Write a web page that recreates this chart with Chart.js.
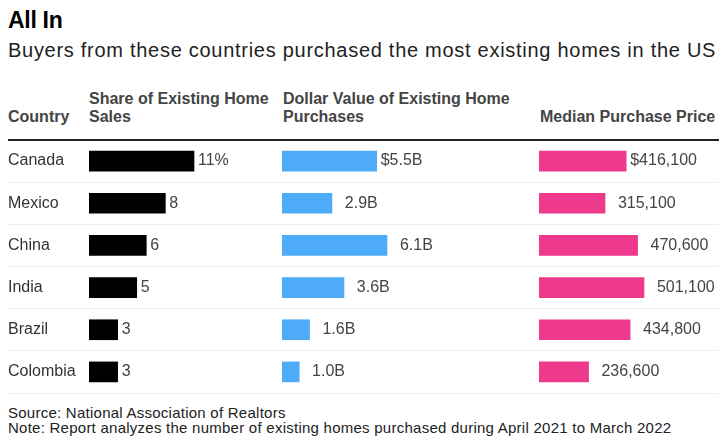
<!DOCTYPE html>
<html>
<head>
<meta charset="utf-8">
<script src="https://cdn.jsdelivr.net/npm/chart.js@4.4.0/dist/chart.umd.min.js"></script>
<style>
  body { margin: 0; background: #fff; font-family: "Liberation Sans", Arial, sans-serif; }
  #wrap { position: relative; width: 728px; height: 446px; overflow: hidden; }
  .t { position: absolute; white-space: nowrap; }
  #title { left: 8px; top: 7px; font-size: 23px; line-height: 26px; font-weight: bold; color: #000; letter-spacing: -0.3px; }
  #subtitle { left: 8px; top: 38px; font-size: 20px; line-height: 24px; color: #222; letter-spacing: 0.72px; }
  .head { top: 90px; font-size: 16px; line-height: 18px; font-weight: bold; color: #444; }
  .foot { left: 8px; font-size: 15px; line-height: 13px; color: #222; letter-spacing: 0.25px; }
  canvas { position: absolute; top: 136px; }
</style>
</head>
<body>
<div id="wrap">
  <div class="t" id="title">All In</div>
  <div class="t" id="subtitle">Buyers from these countries purchased the most existing homes in the US</div>

  <div class="t head" style="left:8px; top:108px;">Country</div>
  <div class="t head" style="left:89px;">Share of Existing Home<br>Sales</div>
  <div class="t head" style="left:283px;">Dollar Value of Existing Home<br>Purchases</div>
  <div class="t head" style="left:540px; top:108px;">Median Purchase Price</div>

  <canvas id="share" width="270" height="260" style="left:0px;"></canvas>
  <canvas id="dollar" width="250" height="260" style="left:270px;"></canvas>
  <canvas id="median" width="199" height="260" style="left:520px;"></canvas>

  <div class="t foot" style="top:406px;">Source: National Association of Realtors</div>
  <div class="t foot" style="top:421px;">Note: Report analyzes the number of existing homes purchased during April 2021 to March 2022</div>
</div>

<script>
// data
const countries = ['Canada', 'Mexico', 'China', 'India', 'Brazil', 'Colombia'];
const sharePct = [11, 8, 6, 5, 3, 3];
const dollarBillions = [5.5, 2.9, 6.1, 3.6, 1.6, 1.0];
const medianPrice = [416100, 315100, 470600, 501100, 434800, 236600];

Chart.defaults.font.family = '"Liberation Sans", Arial, sans-serif';

// the longest bar of every column is this many pixels long
const LONGEST_BAR = 105;

// draws the value next to each bar; first row carries the unit,
// the others leave room for a "$" so the numbers line up with it
const valueLabels = {
    id: 'valueLabels',
    afterDatasetsDraw(chart, args, opts) {
        const ctx = chart.ctx;
        const meta = chart.getDatasetMeta(0);
        ctx.save();
        ctx.font = '16px "Liberation Sans", Arial, sans-serif';
        ctx.fillStyle = '#444';
        ctx.textAlign = 'left';
        ctx.textBaseline = 'middle';
        const prefixWidth = ctx.measureText(opts.prefix).width;
        meta.data.forEach((bar, i) => {
            const raw = chart.data.datasets[0].data[i];
            const txt = opts.format(raw);
            let x = bar.x + 4;
            if (i === 0) {
                ctx.fillText(opts.prefix + txt + opts.suffix, x, bar.y);
            } else {
                ctx.fillText(txt, x + prefixWidth, bar.y);
            }
        });
        ctx.restore();
    }
};

function makeColumn(canvasId, values, color, gap, areaWidth, showNames, labelOpts) {
    const top = Math.max(...values);
    new Chart(document.getElementById(canvasId), {
        type: 'bar',
        data: {
            labels: countries,
            datasets: [{
                data: values,
                backgroundColor: color,
                borderWidth: 0,
                barThickness: 20
            }]
        },
        options: {
            indexAxis: 'y',
            responsive: false,
            animation: false,
            layout: { padding: { left: showNames ? 8 : 0, top: 4, bottom: 3, right: 0 } },
            plugins: {
                legend: { display: false },
                tooltip: { enabled: false },
                valueLabels: labelOpts
            },
            scales: {
                x: {
                    display: false,
                    min: 0,
                    max: top * areaWidth / LONGEST_BAR
                },
                y: {
                    border: { display: false },
                    grid: {
                        color: c => c.index === 0 ? '#222' : '#eeeeee',
                        lineWidth: c => c.index === 0 ? 2 : 1,
                        tickLength: gap
                    },
                    ticks: {
                        display: showNames,
                        crossAlign: 'far',
                        color: '#333',
                        font: { size: 16 }
                    },
                    afterFit: s => {
                        // same row grid in all three columns
                        s.width = gap;
                        s.paddingTop = 0;
                        s.paddingBottom = 0;
                    }
                }
            }
        },
        plugins: [valueLabels]
    });
}

makeColumn('share', sharePct, '#000000', 81, 181, true, {
    prefix: '', suffix: '%', format: v => String(v)
});
makeColumn('dollar', dollarBillions, '#4dabf7', 12, 238, false, {
    prefix: '$', suffix: '', format: v => v.toFixed(1) + 'B'
});
makeColumn('median', medianPrice, '#ee3a8c', 19, 180, false, {
    prefix: '$', suffix: '', format: v => v.toLocaleString('en-US')
});
</script>
</body>
</html>
